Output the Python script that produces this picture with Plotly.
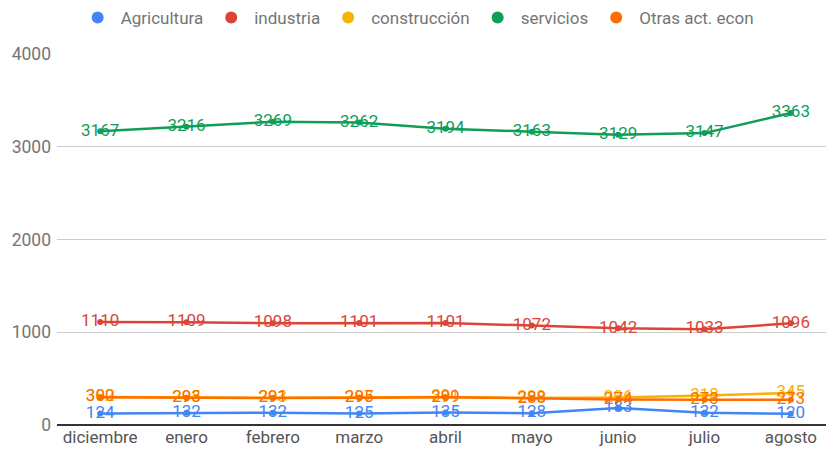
import plotly.graph_objects as go

# Meses y series
meses = ["diciembre", "enero", "febrero", "marzo", "abril", "mayo", "junio", "julio", "agosto"]
agricultura = [124, 132, 132, 125, 135, 128, 183, 132, 120]
industria = [1110, 1109, 1098, 1101, 1101, 1072, 1042, 1033, 1096]
construccion = [302, 295, 293, 297, 301, 290, 296, 318, 345]
servicios = [3167, 3216, 3269, 3262, 3194, 3163, 3129, 3147, 3363]
otras = [300, 293, 291, 295, 299, 288, 274, 273, 273]

series = [
    ("Agricultura", agricultura, "#4285F4"),
    ("industria", industria, "#DB4437"),
    ("construcción", construccion, "#F4B400"),
    ("servicios", servicios, "#0F9D58"),
    ("Otras act. econ", otras, "#FF6D01"),
]

fig = go.Figure()

for name, vals, color in series:
    fig.add_trace(go.Scatter(
        x=meses,
        y=vals,
        mode="lines+markers+text",
        name=name,
        showlegend=False,
        line=dict(color=color, width=2.5),
        marker=dict(size=6, color=color),
        text=[str(v) for v in vals],
        textposition="middle center",
        textfont=dict(family="Roboto", size=17, color=color),
        hoverinfo="x+y+name",
    ))

# legend entries with round symbols only
for name, vals, color in series:
    fig.add_trace(go.Scatter(
        x=[None], y=[None],
        mode="markers",
        name=name,
        marker=dict(size=15, color=color),
    ))

# the page body has an 8px margin, so margins are shifted to compensate
fig.update_layout(
    width=834,
    height=454,
    margin=dict(l=49, r=8, t=46, b=37),
    plot_bgcolor="white",
    paper_bgcolor="white",
    font=dict(family="Roboto", size=17, color="#757575"),
    legend=dict(
        orientation="h",
        x=0.49, xanchor="center", xref="container",
        y=0.978, yanchor="middle", yref="container",
        font=dict(size=17, color="#757575"),
        itemsizing="constant",
        itemwidth=36,
    ),
    xaxis=dict(
        range=[-0.5, 8.5],
        showgrid=False,
        showline=False,
        zeroline=False,
        automargin=False,
        tickfont=dict(color="#555555", size=17),
    ),
    yaxis=dict(
        range=[0, 4000],
        dtick=1000,
        gridcolor="#cccccc",
        zeroline=True,
        zerolinecolor="#333333",
        zerolinewidth=1.5,
        showline=False,
        automargin=False,
        ticklabelstandoff=5,
        tickfont=dict(color="#757575", size=17.5),
    ),
)

fig.write_html("out.html")
